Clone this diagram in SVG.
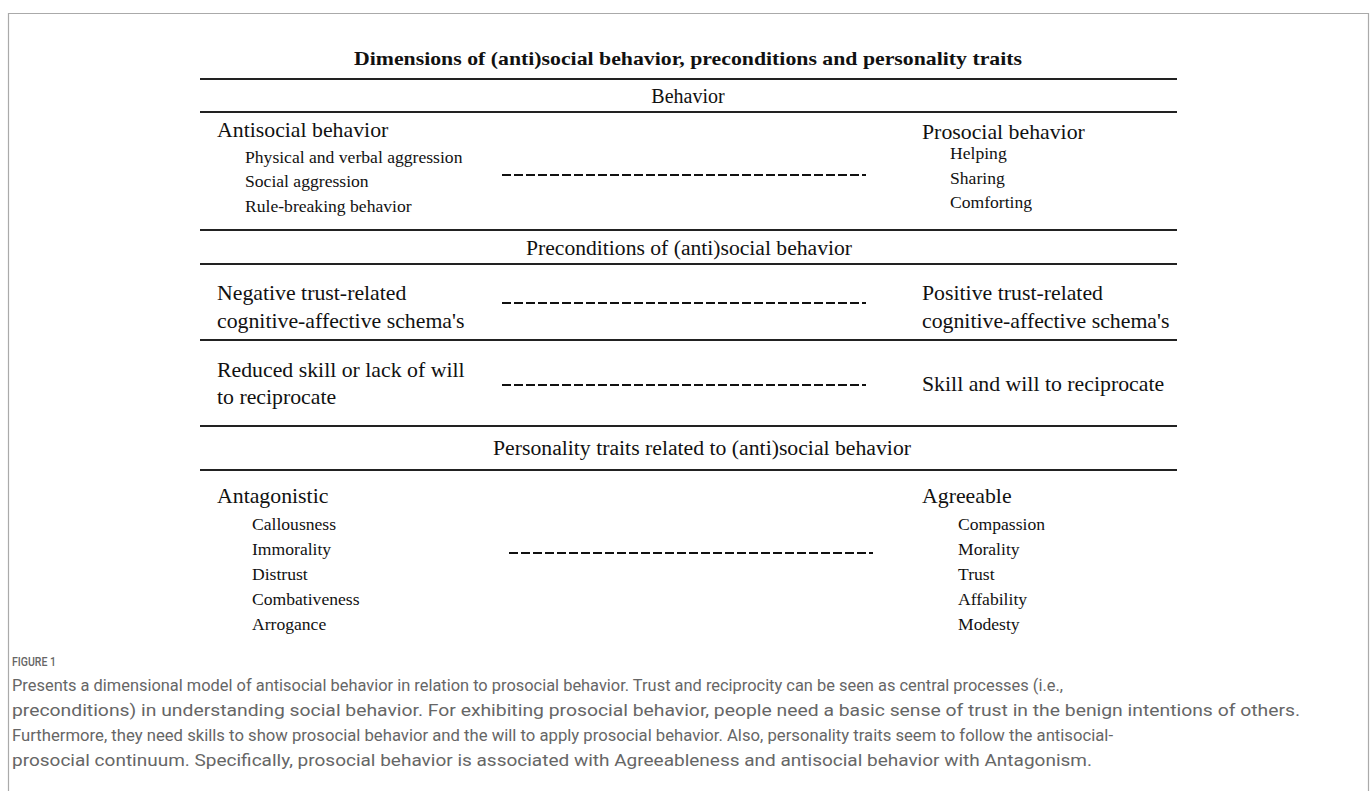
<svg xmlns="http://www.w3.org/2000/svg" width="1372" height="791" viewBox="0 0 1372 791">
<style>
.t{font-family:"Liberation Serif","Times New Roman",serif;fill:#111}
.m{font-size:21.8px}
.h{font-size:20px}
.s{font-size:17.6px}
.ti{font-size:19px;font-weight:bold}
.rule{stroke:#222;stroke-width:2}
.dash{stroke:#111;stroke-width:2;stroke-dasharray:9 3}
.cap{font-family:Roboto,"Liberation Sans",sans-serif;fill:#666;font-size:17px}
.fig{font-family:Roboto,"Liberation Sans",sans-serif;fill:#666;font-size:12px;font-weight:500}
</style>
<rect width="1372" height="791" fill="#fff"/>
<path d="M8.5 791 V13.5 H1368.5 V791" fill="none" stroke="#aaa" stroke-width="1.2"/>
<g id="rules">
<line class="rule" x1="200" y1="79" x2="1177" y2="79"/>
<line class="rule" x1="200" y1="112" x2="1177" y2="112"/>
<line class="rule" x1="200" y1="230" x2="1177" y2="230"/>
<line class="rule" x1="200" y1="264" x2="1177" y2="264"/>
<line class="rule" x1="200" y1="340" x2="1177" y2="340"/>
<line class="rule" x1="200" y1="426" x2="1177" y2="426"/>
<line class="rule" x1="200" y1="470" x2="1177" y2="470"/>
</g>
<g id="title"><text class="t ti" x="688" y="65" text-anchor="middle" textLength="668" lengthAdjust="spacingAndGlyphs">Dimensions of (anti)social behavior, preconditions and personality traits</text></g>
<g id="head-behavior"><text class="t h" x="688" y="103" text-anchor="middle">Behavior</text></g>
<g id="antisocial">
<text class="t m" x="217" y="137">Antisocial behavior</text>
<text class="t s" x="245" y="163">Physical and verbal aggression</text>
<text class="t s" x="245" y="187">Social aggression</text>
<text class="t s" x="245" y="212">Rule-breaking behavior</text>
</g>
<g id="prosocial">
<text class="t m" x="922" y="139">Prosocial behavior</text>
<text class="t s" x="950" y="159">Helping</text>
<text class="t s" x="950" y="184">Sharing</text>
<text class="t s" x="950" y="208">Comforting</text>
</g>
<g id="head-preconditions"><text class="t h" x="689" y="255" text-anchor="middle" textLength="326" lengthAdjust="spacingAndGlyphs">Preconditions of (anti)social behavior</text></g>
<g id="negative-trust">
<text class="t m" x="217" y="300">Negative trust-related</text>
<text class="t m" x="217" y="328">cognitive-affective schema's</text>
</g>
<g id="positive-trust">
<text class="t m" x="922" y="300">Positive trust-related</text>
<text class="t m" x="922" y="328">cognitive-affective schema's</text>
</g>
<g id="reduced-skill">
<text class="t m" x="217" y="377">Reduced skill or lack of will</text>
<text class="t m" x="217" y="404">to reciprocate</text>
</g>
<g id="skill-will"><text class="t m" x="922" y="391">Skill and will to reciprocate</text></g>
<g id="head-personality"><text class="t h" x="702" y="455" text-anchor="middle" textLength="418" lengthAdjust="spacingAndGlyphs">Personality traits related to (anti)social behavior</text></g>
<g id="antagonistic">
<text class="t m" x="217" y="503">Antagonistic</text>
<text class="t s" x="252" y="530">Callousness</text>
<text class="t s" x="252" y="555">Immorality</text>
<text class="t s" x="252" y="580">Distrust</text>
<text class="t s" x="252" y="605">Combativeness</text>
<text class="t s" x="252" y="630">Arrogance</text>
</g>
<g id="agreeable">
<text class="t m" x="922" y="503">Agreeable</text>
<text class="t s" x="958" y="530">Compassion</text>
<text class="t s" x="958" y="555">Morality</text>
<text class="t s" x="958" y="580">Trust</text>
<text class="t s" x="958" y="605">Affability</text>
<text class="t s" x="958" y="630">Modesty</text>
</g>
<g id="connectors">
<line class="dash" x1="502" y1="175" x2="866" y2="175"/>
<line class="dash" x1="502" y1="303" x2="866" y2="303"/>
<line class="dash" x1="502" y1="385" x2="866" y2="385"/>
<line class="dash" x1="509" y1="553" x2="873" y2="553"/>
</g>
<g id="caption">
<text class="fig" x="12" y="666" textLength="44" lengthAdjust="spacingAndGlyphs">FIGURE 1</text>
<text class="cap" x="12" y="691" textLength="1051" lengthAdjust="spacingAndGlyphs">Presents a dimensional model of antisocial behavior in relation to prosocial behavior. Trust and reciprocity can be seen as central processes (i.e.,</text>
<text class="cap" x="12" y="716" textLength="1288" lengthAdjust="spacingAndGlyphs">preconditions) in understanding social behavior. For exhibiting prosocial behavior, people need a basic sense of trust in the benign intentions of others.</text>
<text class="cap" x="12" y="741" textLength="1101" lengthAdjust="spacingAndGlyphs">Furthermore, they need skills to show prosocial behavior and the will to apply prosocial behavior. Also, personality traits seem to follow the antisocial-</text>
<text class="cap" x="12" y="766" textLength="1080" lengthAdjust="spacingAndGlyphs">prosocial continuum. Specifically, prosocial behavior is associated with Agreeableness and antisocial behavior with Antagonism.</text>
</g>
</svg>
